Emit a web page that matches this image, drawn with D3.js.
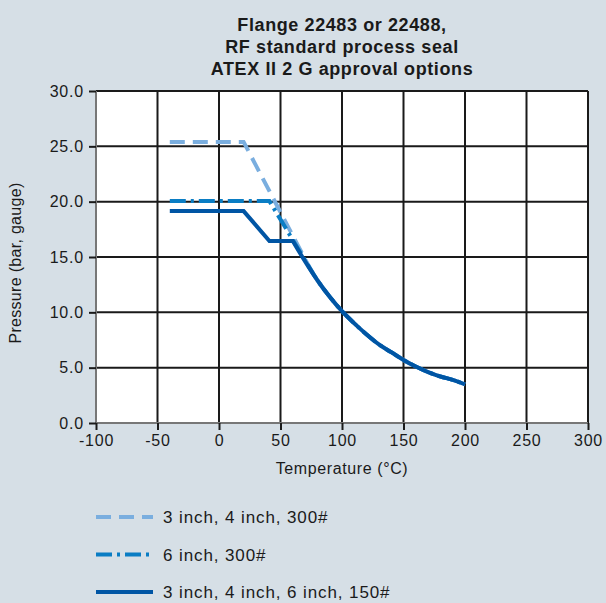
<!DOCTYPE html>
<html>
<head>
<meta charset="utf-8">
<script src="https://cdn.jsdelivr.net/npm/d3@7"></script>
<style>
  html, body { margin: 0; padding: 0; background: #d6dfe6; }
  text { font-family: "Liberation Sans", Arial, sans-serif; fill: #1a1a1a; }
</style>
</head>
<body>
<script>
// temperature (°C) / pressure (bar)
const tempDashed = [-40, 20, 70, 80, 90, 100, 110, 120, 130, 140, 150, 160, 170, 180, 190, 200];
const presDashed = [25.4, 25.4, 14.8, 12.9, 11.4, 10.1, 9.0, 8.0, 7.1, 6.4, 5.7, 5.1, 4.6, 4.2, 3.9, 3.5];

const tempDashDot = [-40, 41, 70, 80, 90, 100, 110, 120, 130, 140, 150, 160, 170, 180, 190, 200];
const presDashDot = [20.05, 20.05, 14.7, 12.9, 11.4, 10.1, 9.0, 8.0, 7.1, 6.4, 5.7, 5.1, 4.6, 4.2, 3.9, 3.5];

const tempSolid = [-40, 20, 41, 60, 70, 80, 90, 100, 110, 120, 130, 140, 150, 160, 170, 180, 190, 200];
const presSolid = [19.15, 19.15, 16.45, 16.45, 14.6, 12.9, 11.4, 10.1, 9.0, 8.0, 7.1, 6.4, 5.7, 5.1, 4.6, 4.2, 3.9, 3.5];

const xTicks = [-100, -50, 0, 50, 100, 150, 200, 250, 300];
const yTicks = [0, 5, 10, 15, 20, 25, 30];

const titleLines = ["Flange 22483 or 22488,", "RF standard process seal", "ATEX II 2 G approval options"];
const legendLabels = ["3 inch, 4 inch, 300#", "6 inch, 300#", "3 inch, 4 inch, 6 inch, 150#"];

const W = 606, H = 603;
const margin = {left: 96, right: 18, top: 91, bottom: 180};

const svg = d3.select("body").append("svg")
  .attr("width", W)
  .attr("height", H);

const x = d3.scaleLinear().domain([-100, 300]).range([margin.left, W - margin.right]);
const y = d3.scaleLinear().domain([0, 30]).range([H - margin.bottom, margin.top]);

// plot area
svg.append("rect")
  .attr("x", x(-100)).attr("y", y(30))
  .attr("width", x(300) - x(-100)).attr("height", y(0) - y(30))
  .attr("fill", "#fff");

// grid
svg.append("g").selectAll("line")
  .data(xTicks.slice(1))
  .join("line")
  .attr("x1", d => x(d)).attr("x2", d => x(d))
  .attr("y1", y(30)).attr("y2", y(0))
  .attr("stroke", "#1a1a1a").attr("stroke-width", 2);

svg.append("g").selectAll("line")
  .data(yTicks.slice(1))
  .join("line")
  .attr("x1", x(-100)).attr("x2", x(300))
  .attr("y1", d => y(d)).attr("y2", d => y(d))
  .attr("stroke", "#1a1a1a").attr("stroke-width", 2);

// axes
const xAxis = svg.append("g")
  .attr("transform", "translate(0," + y(0) + ")")
  .call(d3.axisBottom(x).tickValues(xTicks).tickSize(7).tickPadding(5).tickFormat(d => String(d)));
const yAxis = svg.append("g")
  .attr("transform", "translate(" + x(-100) + ",0)")
  .call(d3.axisLeft(y).tickValues(yTicks).tickSize(7).tickPadding(5).tickFormat(d => d.toFixed(1)));

[xAxis, yAxis].forEach(a => {
  a.select(".domain").attr("stroke", "#777").attr("stroke-width", 2);
  a.selectAll(".tick line").attr("stroke", "#1a1a1a").attr("stroke-width", 2);
  a.selectAll(".tick text")
    .attr("font-size", 16).attr("font-family", "Liberation Sans, Arial, sans-serif")
    .attr("fill", "#1a1a1a").style("letter-spacing", "0.8px");
});
xAxis.select(".domain").attr("d", "M" + x(-100) + ",0H" + x(300));
yAxis.select(".domain").attr("d", "M0," + y(0) + "V" + y(30));

// axis titles
svg.append("text")
  .attr("x", (x(-100) + x(300)) / 2).attr("y", 474)
  .attr("text-anchor", "middle").attr("font-size", 16)
  .style("letter-spacing", "0.6px")
  .text("Temperature (°C)");

svg.append("text")
  .attr("transform", "translate(21,263) rotate(-90)")
  .attr("text-anchor", "middle").attr("font-size", 16)
  .style("letter-spacing", "0.3px")
  .text("Pressure (bar, gauge)");

// title
svg.append("g").selectAll("text")
  .data(titleLines)
  .join("text")
  .attr("x", (x(-100) + x(300)) / 2)
  .attr("y", (d, i) => 31 + i * 22)
  .attr("text-anchor", "middle")
  .attr("font-size", 18).attr("font-weight", "bold")
  .style("letter-spacing", "0.6px")
  .text(d => d);

// series
const series = [
  {t: tempDashed, p: presDashed, joint: 2, color: "#7aaedf", dash: "15,8"},
  {t: tempDashDot, p: presDashDot, joint: 2, color: "#0a7dc4", dash: "16,5,3,5"},
  {t: tempSolid, p: presSolid, joint: 3, color: "#0055a4", dash: null}
];

// straight segments up to the joint, smooth curve after it
const straight = d3.line().x(d => x(d[0])).y(d => y(d[1]));
const smooth = d3.line().x(d => x(d[0])).y(d => y(d[1])).curve(d3.curveMonotoneX);
function seriesPath(s) {
  const pts = d3.zip(s.t, s.p);
  return straight(pts.slice(0, s.joint + 1)) + smooth(pts.slice(s.joint)).replace(/^M/, "L");
}

svg.append("g").selectAll("path")
  .data(series)
  .join("path")
  .attr("d", seriesPath)
  .attr("fill", "none")
  .attr("stroke", s => s.color)
  .attr("stroke-width", 4)
  .attr("stroke-dasharray", s => s.dash);

// legend
const legend = svg.append("g").selectAll("g")
  .data(series)
  .join("g")
  .attr("transform", (d, i) => "translate(96," + (517 + i * 37.5) + ")");

legend.append("line")
  .attr("x1", 0).attr("x2", 57)
  .attr("stroke", d => d.color)
  .attr("stroke-width", 4)
  .attr("stroke-dasharray", d => d.dash);

legend.append("text")
  .attr("x", 67).attr("y", 6)
  .attr("font-size", 17)
  .style("letter-spacing", "0.9px")
  .text((d, i) => legendLabels[i]);
</script>
</body>
</html>
